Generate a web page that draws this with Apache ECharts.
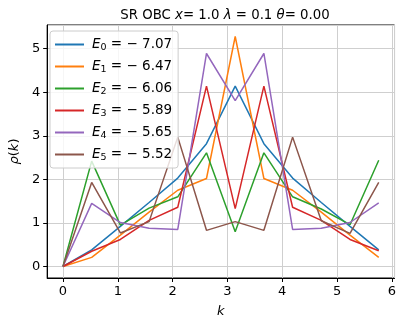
<!DOCTYPE html>
<html>
<head>
    <meta charset="utf-8"/>
    <style>
        html, body {
            height: 100%;
            margin: 0;
            padding: 0;
            background: #ffffff;
        }

        .container {
            width: 399px;
            height: 323px;
        }
    </style>
</head>
<body>
<div id="main" class="container"></div>
<script src="https://cdn.jsdelivr.net/npm/echarts@6/dist/echarts.min.js"></script>
<script type="text/javascript">
    // k 取值 (n*pi/6)
    var kValues = [0, 0.524, 1.047, 1.571, 2.094, 2.618, 3.142, 3.665, 4.189, 4.712, 5.236, 5.760];

    // 各能级的 rho(k)
    var rhoE0 = [0, 0.38, 0.92, 1.47, 2.03, 2.82, 4.14, 2.82, 2.03, 1.47, 0.92, 0.38];
    var rhoE1 = [0, 0.21, 0.72, 1.25, 1.75, 2.02, 5.28, 2.02, 1.75, 1.25, 0.72, 0.21];
    var rhoE2 = [0, 2.42, 0.95, 1.34, 1.60, 2.61, 0.80, 2.61, 1.60, 1.32, 0.96, 2.44];
    var rhoE3 = [0, 0.35, 0.62, 1.06, 1.36, 4.14, 1.33, 4.14, 1.36, 1.06, 0.62, 0.36];
    var rhoE4 = [0, 1.45, 1.01, 0.88, 0.85, 4.89, 3.81, 4.89, 0.85, 0.88, 1.01, 1.46];
    var rhoE5 = [0, 1.93, 0.77, 1.03, 2.97, 0.83, 1.03, 0.83, 2.97, 1.05, 0.76, 1.93];

    var energies = ['7.07', '6.47', '6.06', '5.89', '5.65', '5.52'];
    var colors = ['#1f77b4', '#ff7f0e', '#2ca02c', '#d62728', '#9467bd', '#8c564b'];

    var xTicks = [0, 1, 2, 3, 4, 5, 6];
    var yTicks = [0, 1, 2, 3, 4, 5];

    var font = 'DejaVu Sans';
    var myChart = echarts.init(document.getElementById('main'));

    function pairs(ys) {
        var out = [];
        for (var i = 0; i < kValues.length; i++) {
            out.push([kValues[i], ys[i]]);
        }
        return out;
    }

    function tickLabel(list) {
        return function (v) {
            return list.indexOf(Math.round(v * 1000) / 1000) >= 0 ? String(v) : '';
        };
    }

    var allRho = [rhoE0, rhoE1, rhoE2, rhoE3, rhoE4, rhoE5];
    var series = [];
    for (var i = 0; i < allRho.length; i++) {
        series.push({
            type: 'line',
            name: 'E' + i,
            data: pairs(allRho[i]),
            symbol: 'none',
            showSymbol: false,
            animation: false,
            lineStyle: {color: colors[i], width: 1.5},
            itemStyle: {color: colors[i]}
        });
    }

    var option = {
        animation: false,
        title: {
            text: '{n|SR OBC }{i|x}{n|= 1.0 }{i|λ}{n| = 0.1 }{i|θ}{n|= 0.00}',
            left: 220,
            textAlign: 'center',
            top: 4,
            textStyle: {
                fontWeight: 'normal',
                rich: {
                    n: {fontFamily: font, fontSize: 13.3, fontWeight: 'normal', color: '#000'},
                    i: {fontFamily: font, fontSize: 13.3, fontWeight: 'normal', fontStyle: 'italic', color: '#000'}
                }
            }
        },
        legend: {
            left: 50,
            top: 31,
            orient: 'vertical',
            icon: 'rect',
            itemWidth: 29,
            itemHeight: 2,
            itemGap: 5,
            padding: [5, 6, 5, 5],
            backgroundColor: 'rgba(255,255,255,0.8)',
            borderColor: '#cccccc',
            borderWidth: 1,
            borderRadius: 3,
            selectedMode: false,
            data: ['E0', 'E1', 'E2', 'E3', 'E4', 'E5'],
            formatter: function (name) {
                var idx = name.substring(1);
                return '{e|E}{s|' + idx + '}{t| = − ' + energies[idx] + '}';
            },
            textStyle: {
                lineHeight: 17,
                rich: {
                    e: {fontFamily: font, fontSize: 13.5, lineHeight: 17, fontStyle: 'italic', color: '#000', padding: [0, 0, 0, 3]},
                    s: {fontFamily: font, fontSize: 9.5, lineHeight: 17, color: '#000', padding: [6, 0, 0, 0]},
                    t: {fontFamily: font, fontSize: 13.5, lineHeight: 17, color: '#000'}
                }
            }
        },
        grid: {
            left: 43,
            right: 1,
            top: 25,
            bottom: 34,
            show: true,
            borderColor: '#000',
            borderWidth: 1,
            backgroundColor: 'transparent'
        },
        xAxis: {
            type: 'value',
            min: -0.288,
            max: 6.048,
            splitNumber: 6,
            name: 'k',
            nameLocation: 'middle',
            nameGap: 27,
            nameTextStyle: {fontFamily: font, fontSize: 13, fontStyle: 'italic', color: '#000'},
            axisLine: {onZero: false, lineStyle: {color: '#000', width: 1}},
            axisTick: {show: true, length: 4, lineStyle: {color: '#000'}},
            axisLabel: {
                showMinLabel: false, showMaxLabel: false, margin: 7,
                fontFamily: font, fontSize: 13, color: '#000',
                formatter: tickLabel(xTicks)
            },
            splitLine: {show: true, lineStyle: {color: '#cfcfcf', width: 1}}
        },
        yAxis: {
            type: 'value',
            min: -0.264,
            max: 5.544,
            splitNumber: 5,
            name: '{i|ρ}{n|(}{i|k}{n|)}',
            nameLocation: 'middle',
            nameGap: 24,
            nameTextStyle: {
                rich: {
                    n: {fontFamily: font, fontSize: 13, color: '#000'},
                    i: {fontFamily: font, fontSize: 13, fontStyle: 'italic', color: '#000'}
                }
            },
            axisLine: {onZero: false, lineStyle: {color: '#000', width: 1}},
            axisTick: {show: true, length: 4, lineStyle: {color: '#000'}},
            axisLabel: {
                showMinLabel: false, showMaxLabel: false, margin: 7,
                fontFamily: font, fontSize: 13, color: '#000',
                formatter: tickLabel(yTicks)
            },
            splitLine: {show: true, lineStyle: {color: '#cfcfcf', width: 1}}
        },
        series: series
    };

    myChart.setOption(option);
</script>
</body>
</html>
